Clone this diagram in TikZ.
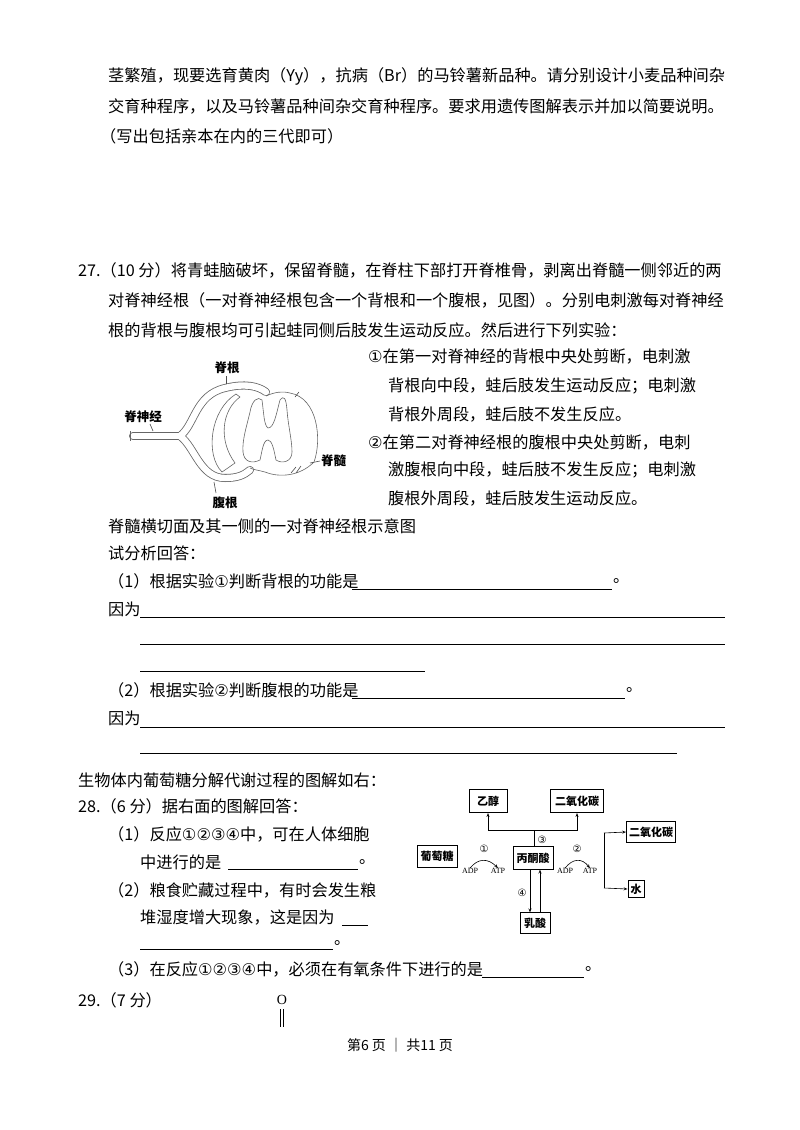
\documentclass[tikz,border=0pt]{standalone}
\usepackage{fontspec}
\setmainfont{Liberation Serif}
\newfontfamily\cjk{Noto Sans CJK SC}
\newfontfamily\dv{DejaVu Sans}
\newcommand{\ca}{{\dv ①}}
\newcommand{\cb}{{\dv ②}}
\newcommand{\cc}{{\dv ③}}
\newcommand{\cd}{{\dv ④}}
\usetikzlibrary{arrows.meta}
\begin{document}
\begin{tikzpicture}[x=1pt,y=-1pt,
 t/.style={anchor=west,inner sep=0pt,font=\cjk\fontsize{16.2}{17}\selectfont},
 ul/.style={line width=0.7pt},
 bx/.style={draw,line width=0.8pt,inner sep=2pt,font=\cjk\fontsize{11}{12}\selectfont\bfseries},
 sm/.style={inner sep=0pt,font=\fontsize{8}{9}\selectfont},
 cn/.style={inner sep=0pt,font=\dv\fontsize{10}{11}\selectfont},
 ar/.style={-{Stealth[length=4pt,open]},line width=0.6pt},
 lb/.style={inner sep=0pt,font=\cjk\fontsize{12.5}{13}\selectfont\bfseries},
 tube/.style={line width=8pt,draw=black!60,line cap=round},
 tubein/.style={line width=6.4pt,draw=white,line cap=round}]
\useasboundingbox (0,0) rectangle (800,1130);
\fill[white] (0,0) rectangle (800,1130);
\node[t] (l1) at (108,76) {茎繁殖，现要选育黄肉（Yy），抗病（Br）的马铃薯新品种。请分别设计小麦品种间杂};
\node[t] (l2) at (108,106) {交育种程序，以及马铃薯品种间杂交育种程序。要求用遗传图解表示并加以简要说明。};
\node[t] (l3) at (100,136) {（写出包括亲本在内的三代即可）};
\node[t] (l4) at (78,270) {27.（10 分）将青蛙脑破坏，保留脊髓，在脊柱下部打开脊椎骨，剥离出脊髓一侧邻近的两};
\node[t] (l5) at (108,300) {对脊神经根（一对脊神经根包含一个背根和一个腹根，见图）。分别电刺激每对脊神经};
\node[t] (l6) at (108,330) {根的背根与腹根均可引起蛙同侧后肢发生运动反应。然后进行下列实验：};
\node[t] (e1) at (368,357) {\ca 在第一对脊神经的背根中央处剪断，电刺激};
\node[t] (e2) at (388,386) {背根向中段，蛙后肢发生运动反应；电刺激};
\node[t] (e3) at (388,414) {背根外周段，蛙后肢不发生反应。};
\node[t] (e4) at (368,443) {\cb 在第二对脊神经根的腹根中央处剪断，电刺};
\node[t] (e5) at (388,470) {激腹根向中段，蛙后肢不发生反应；电刺激};
\node[t] (e6) at (388,498) {腹根外周段，蛙后肢发生运动反应。};
\node[t] (cap) at (108,526) {脊髓横切面及其一侧的一对脊神经根示意图};
\node[t] (q0) at (108,553) {试分析回答：};
\node[t] (q1) at (108,581) {（1）根据实验\ca 判断背根的功能是};
\draw[ul] (352,589) -- (612,589); \node[t] (p1) at (613,581) {。};
\node[t] (y1) at (108,609) {因为};
\draw[ul] (140,617) -- (725,617);
\draw[ul] (140,644) -- (725,644);
\draw[ul] (140,671) -- (425,671);
\node[t] (q2) at (108,690) {（2）根据实验\cb 判断腹根的功能是};
\draw[ul] (352,698) -- (625,698); \node[t] (p2) at (626,690) {。};
\node[t] (y2) at (108,718) {因为};
\draw[ul] (140,727) -- (725,727);
\draw[ul] (140,753) -- (677,753);
\node[t] (g0) at (78,780) {生物体内葡萄糖分解代谢过程的图解如右：};
\node[t] (g1) at (78,806) {28.（6 分）据右面的图解回答：};
\node[t] (g2) at (108,834) {（1）反应\ca\cb\cc\cd 中，可在人体细胞};
\node[t] (g3) at (140,862) {中进行的是};
\draw[ul] (228,869) -- (358,869); \node[t] (p3) at (359,862) {。};
\node[t] (g4) at (108,890) {（2）粮食贮藏过程中，有时会发生粮};
\node[t] (g5) at (140,918) {堆湿度增大现象，这是因为};
\draw[ul] (342,925) -- (368,925);
\draw[ul] (140,949) -- (333,949); \node[t] (p4) at (334,943) {。};
\node[t] (g6) at (108,969) {（3）在反应\ca\cb\cc\cd 中，必须在有氧条件下进行的是};
\draw[ul] (482,977) -- (584,977); \node[t] (p5) at (585,969) {。};
\node[t] (g7) at (78,1000) {29.（7 分）};
\node[inner sep=0pt,font=\fontsize{14}{15}\selectfont] (O) at (282,1000) {O};
\draw[line width=0.7pt] (280.5,1009) -- (280.5,1027) (283.5,1009) -- (283.5,1027);
\node[inner sep=0pt,font=\cjk\fontsize{14}{15}\selectfont] (pg) at (400,1045) {第6 页 ｜ 共11 页};
% flowchart
\node[bx,minimum width=38pt,minimum height=23pt] (yc) at (488,801) {乙醇};
\node[bx,minimum width=53pt,minimum height=23pt] (co1) at (577,801) {二氧化碳};
\node[bx,minimum width=49pt,minimum height=21pt] (co2) at (651,832) {二氧化碳};
\node[bx,minimum width=16pt,minimum height=17pt,inner sep=1pt] (sh) at (636,889) {水};
\node[bx,minimum width=40pt,minimum height=22pt] (pt) at (437,856) {葡萄糖};
\node[bx,minimum width=40pt,minimum height=23pt] (bt) at (533,858) {丙酮酸};
\node[bx,minimum width=30pt,minimum height=21pt] (rs) at (535,923) {乳酸};
\coordinate (br) at (534,830);
\draw[line width=0.6pt] (bt.north -| br) -- (br);
\draw[ar] (br) -| (yc.south);
\draw[ar] (br) -| (co1.south);
\node[cn] (c3) at (542,840) {③};
\draw[ar] (530,869.5) -- (530,912.5);
\draw[ar] (540,912.5) -- (540,869.5);
\node[cn] (c4) at (522,893) {④};
\coordinate (vt) at (604,833);
\coordinate (vb) at (604,888);
\draw[line width=0.6pt] (vt) -- (vb);
\draw[ar] (vt) -- (co2.west);
\draw[ar] (vb) -- (sh.west);
\node[cn] (c1) at (484,849) {①};
\node[sm] (adp1) at (470,871) {ADP};
\node[sm] (atp1) at (498,871) {ATP};
\draw[ar] (adp1.north) .. controls (478,858) and (488,858) .. (atp1.north);
\node[cn] (c2) at (577,849) {②};
\node[sm] (adp2) at (565,871) {ADP};
\node[sm] (atp2) at (590,871) {ATP};
\draw[ar] (adp2.north) .. controls (573,858) and (582,858) .. (atp2.north);
% spinal cord figure
\draw[tube] (133,436) -- (180,436);
\draw[tube] (180,436) .. controls (195,425) and (195,395) .. (225,388) .. controls (245,383) and (258,386) .. (266,392);
\draw[tube] (180,436) .. controls (195,447) and (200,478) .. (225,478) .. controls (238,478) and (244,475) .. (250,470);
\draw[tubein] (133,436) -- (180,436);
\draw[tubein] (180,436) .. controls (195,425) and (195,395) .. (225,388) .. controls (245,383) and (258,386) .. (266,392);
\draw[tubein] (180,436) .. controls (195,447) and (200,478) .. (225,478) .. controls (238,478) and (244,475) .. (250,470);
\draw[line width=0.6pt,black!60] (130,431) -- (130,441);
% ganglion crescent
\draw[line width=0.6pt,black!60] (236,394) .. controls (210,410) and (205,455) .. (222,472) .. controls (228,468) and (232,465) .. (235,463) .. controls (218,440) and (222,410) .. (240,397) -- cycle;
% cord outer
\draw[line width=0.6pt,black!60] (266,396) .. controls (275,392) and (282,391) .. (290,393)
 .. controls (318,398) and (322,440) .. (314,462) .. controls (300,476) and (280,478) .. (265,472)
 .. controls (258,470) and (254,470) .. (250,468);
% grey matter H
\draw[line width=0.6pt,black!60]
 (262,400) .. controls (264,415) and (264,425) .. (268,428)
 .. controls (274,428) and (276,415) .. (280,400)
 .. controls (284,395) and (286,398) .. (287,410)
 .. controls (288,425) and (292,440) .. (292,452)
 .. controls (292,462) and (282,464) .. (276,460)
 .. controls (274,450) and (272,440) .. (268,440)
 .. controls (263,440) and (262,452) .. (260,460)
 .. controls (252,464) and (244,462) .. (243,452)
 .. controls (242,440) and (247,425) .. (250,412)
 .. controls (252,400) and (258,396) .. (262,400);
\draw[line width=0.6pt,black!70] (295,397) -- (299,392) (296,467) -- (291,473) (301,466) -- (296,473);
\draw[line width=0.6pt,black!70] (214,482) -- (216,493);
\draw[line width=0.6pt,black!70] (150,424) -- (153,431);
\draw[line width=0.6pt,black!70] (226,376) -- (226,384);
\draw[line width=0.6pt,black!70] (310,463) -- (320,461);
\node[lb,anchor=west] (lb3) at (321,461) {脊髓};
\node[lb] (lb1) at (227,368) {脊根};
\node[lb] (lb2) at (143,417) {脊神经};
\node[lb] (lb4) at (225,503) {腹根};
\end{tikzpicture}
\end{document}
